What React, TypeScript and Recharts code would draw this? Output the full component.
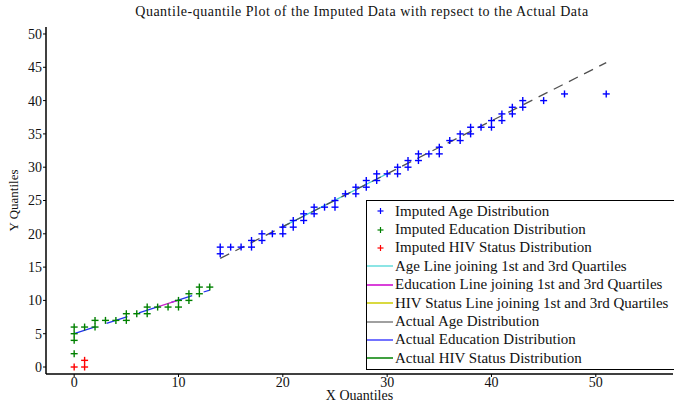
import React from 'react';
import { ScatterChart, Scatter, XAxis, YAxis, Legend, Label } from 'recharts';

const ageX = [14,14,15,16,17,17,18,18,19,20,20,21,21,22,22,23,23,24,25,25,26,27,27,28,28,29,29,30,31,31,32,32,33,33,34,35,35,36,37,37,38,38,39,40,40,41,41,42,42,43,43,45,47,51];
const ageY = [17,18,18,18,18,19,19,20,20,20,21,21,22,22,23,23,24,24,24,25,26,26,27,27,28,28,29,29,29,30,30,31,31,32,32,32,33,34,34,35,35,36,36,36,37,37,38,38,39,39,40,40,41,41];
const eduX = [0,0,0,0,1,2,2,3,4,5,5,6,7,7,8,9,10,10,11,11,12,12,13];
const eduY = [2,4,5,6,6,6,7,7,7,7,8,8,8,9,9,9,9,10,10,11,11,12,12];
const hivX = [0,1,1];
const hivY = [0,0,1];

// reference lines (endpoints)
const ageFitX = [14, 51];
const ageFitY = [16.3, 45.7];
const ageQuartX = [20, 30];
const ageQuartY = [21.07, 29.02];
const eduFitX = [0, 13];
const eduFitY = [5, 11.56];
const eduQuartX = [8, 10];
const eduQuartY = [9.04, 10.05];

const xTicks = [0, 10, 20, 30, 40, 50];
const yTicks = [0, 5, 10, 15, 20, 25, 30, 35, 40, 45, 50];

const legendNames = [
  'Imputed Age Distribution',
  'Imputed Education Distribution',
  'Imputed HIV Status Distribution',
  'Age Line joining 1st and 3rd Quartiles',
  'Education Line joining 1st and 3rd Quartiles',
  'HIV Status Line joining 1st and 3rd Quartiles',
  'Actual Age Distribution',
  'Actual Education Distribution',
  'Actual HIV Status Distribution',
];
const legendKinds = ['marker', 'marker', 'marker', 'line', 'line', 'line', 'line', 'line', 'line'];
const legendColors = ['#0000ff', '#008000', '#ff0000', '#66dddd', '#cc00cc', '#cccc00', '#808080', '#4444ff', '#008000'];

const toPts = (xs: number[], ys: number[]) => xs.map((x, i) => ({ x, y: ys[i] }));

const FONT = '"Liberation Serif", "Times New Roman", serif';

const plus = (color: string) => (props: any) => {
  const { cx, cy } = props;
  if (cx == null || cy == null) return <g />;
  return (
    <g stroke={color} strokeWidth={1.4}>
      <line x1={cx - 3.5} x2={cx + 3.5} y1={cy} y2={cy} />
      <line x1={cx} x2={cx} y1={cy - 3.5} y2={cy + 3.5} />
    </g>
  );
};

const noShape = () => <g />;

const LegendBox = () => (
  <div
    style={{
      border: '1px solid #000',
      background: '#fff',
      width: 330,
      paddingTop: 1,
      paddingBottom: 1,
      fontFamily: FONT,
      fontSize: 15,
      color: '#111',
    }}
  >
    {legendNames.map((n, i) => (
      <div key={n} style={{ height: 18.4, display: 'flex', alignItems: 'center', whiteSpace: 'nowrap' }}>
        <svg width={28} height={18} style={{ flex: 'none' }}>
          {legendKinds[i] === 'marker' ? (
            <g stroke={legendColors[i]} strokeWidth={1.2}>
              <line x1={10.5} x2={16.5} y1={9} y2={9} />
              <line x1={13.5} x2={13.5} y1={6} y2={12} />
            </g>
          ) : (
            <line x1={0} x2={26} y1={9} y2={9} stroke={legendColors[i]} strokeWidth={1.5} />
          )}
        </svg>
        <span>{n}</span>
      </div>
    ))}
  </div>
);

export default function App() {
  const age = toPts(ageX, ageY);
  const edu = toPts(eduX, eduY);
  const hiv = toPts(hivX, hivY);
  return (
    <div style={{ position: 'absolute', left: 0, top: 0, width: 674, height: 400, overflow: 'hidden', background: '#fff' }}>
      <div
        style={{
          position: 'absolute',
          left: 0,
          top: 4,
          width: 724,
          textAlign: 'center',
          fontFamily: FONT,
          fontSize: 14,
          letterSpacing: 0.5,
          color: '#111',
          lineHeight: '16px',
        }}
      >
        Quantile-quantile Plot of the Imputed Data with repsect to the Actual Data
      </div>
      <ScatterChart width={674} height={400} margin={{ top: 27, right: 1, bottom: 0, left: 0 }}>
        <XAxis
          xAxisId="b"
          type="number"
          dataKey="x"
          domain={[-2.7, 57.4]}
          ticks={xTicks}
          allowDataOverflow
          height={26}
          tickSize={3}
          tickMargin={0}
          axisLine={{ stroke: '#000', strokeWidth: 1.5 }}
          tickLine={{ stroke: '#000' }}
          tick={{ fill: '#111', fontFamily: FONT, fontSize: 14 }}
        >
          <Label value="X Quantiles" position="insideBottom" offset={0} fill="#111" fontFamily={FONT} fontSize={14} />
        </XAxis>
        <XAxis
          xAxisId="t"
          orientation="top"
          type="number"
          dataKey="x"
          domain={[-2.7, 57.4]}
          ticks={xTicks}
          allowDataOverflow
          height={0}
          mirror
          tickSize={3}
          tickFormatter={() => ''}
          axisLine={{ stroke: '#000', strokeWidth: 1.5 }}
          tickLine={{ stroke: '#000' }}
        />
        <YAxis
          type="number"
          dataKey="y"
          domain={[-1.05, 51.05]}
          ticks={yTicks}
          allowDataOverflow
          width={46}
          tickSize={3}
          tickMargin={1}
          axisLine={{ stroke: '#000', strokeWidth: 1.5 }}
          tickLine={{ stroke: '#000' }}
          tick={{ fill: '#111', fontFamily: FONT, fontSize: 14 }}
        >
          <Label
            content={(p: any) => {
              const vb = p.viewBox || { x: 0, y: 27, width: 46, height: 347 };
              const cx = 13;
              const cy = vb.y + vb.height / 2;
              return (
                <text x={cx} y={cy} transform={`rotate(-90 ${cx} ${cy})`} textAnchor="middle" dominantBaseline="central" fill="#111" fontFamily={FONT} fontSize={13}>
                  Y Quantiles
                </text>
              );
            }}
          />
        </YAxis>

        <Scatter xAxisId="b" data={toPts(ageQuartX, ageQuartY)} shape={noShape} line={{ stroke: '#44cccc', strokeWidth: 1.3 }} legendType="none" isAnimationActive={false} />
        <Scatter xAxisId="b" data={toPts(ageFitX, ageFitY)} shape={noShape} line={{ stroke: '#505050', strokeWidth: 1.3, strokeDasharray: '10 7' }} legendType="none" isAnimationActive={false} />
        <Scatter xAxisId="b" data={toPts(eduFitX, eduFitY)} shape={noShape} line={{ stroke: '#2233ee', strokeWidth: 1.3, strokeDasharray: '22 12' }} legendType="none" isAnimationActive={false} />
        <Scatter xAxisId="b" data={toPts(eduQuartX, eduQuartY)} shape={noShape} line={{ stroke: '#cc22cc', strokeWidth: 1.3 }} legendType="none" isAnimationActive={false} />

        <Scatter xAxisId="b" data={age} shape={plus('#0000ff')} isAnimationActive={false} />
        <Scatter xAxisId="b" data={edu} shape={plus('#008000')} isAnimationActive={false} />
        <Scatter xAxisId="b" data={hiv} shape={plus('#ff0000')} isAnimationActive={false} />

        <Legend
          layout="vertical"
          align="center"
          verticalAlign="middle"
          wrapperStyle={{ left: 366, top: 200, width: 330 }}
          content={() => <LegendBox />}
        />
      </ScatterChart>
    </div>
  );
}
